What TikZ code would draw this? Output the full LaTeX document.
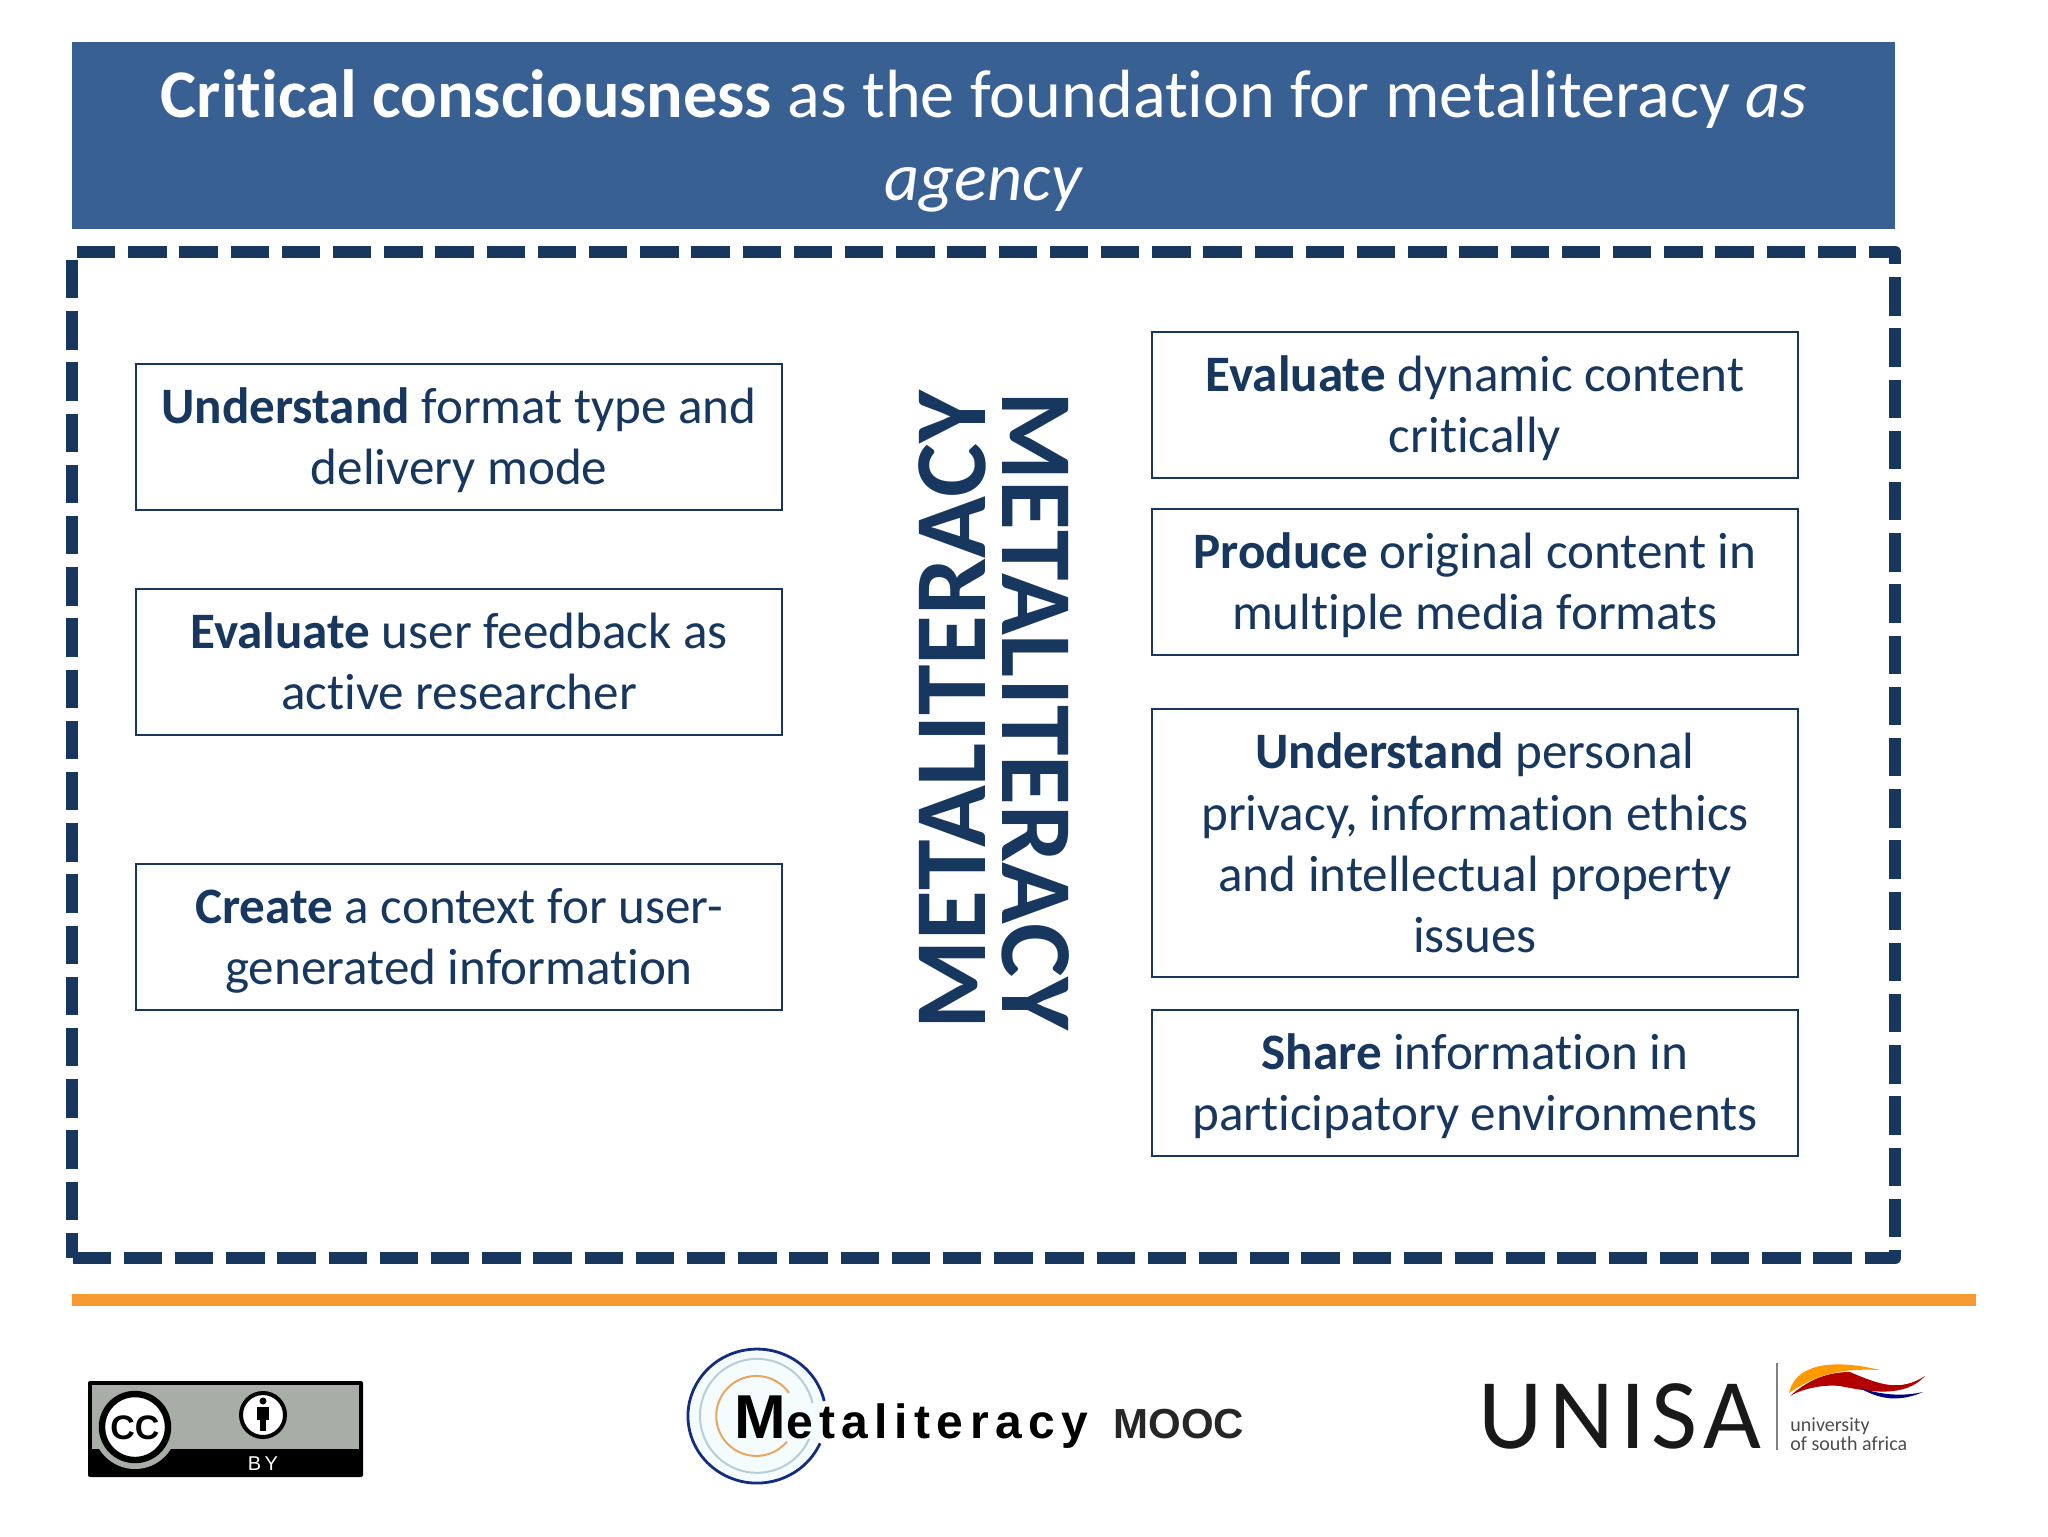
\documentclass[tikz,border=0pt]{standalone}
\usepackage{fontspec}
\setmainfont[Ligatures=NoCommon]{Carlito}
\newfontfamily\logofont[LetterSpace=13.5]{Liberation Sans}
\newfontfamily\moocfont{Liberation Sans}
\newfontfamily\unisafont[LetterSpace=6.5]{Carlito}
\definecolor{headblue}{HTML}{386093}
\definecolor{navy}{HTML}{17375E}
\definecolor{barorange}{HTML}{F79A32}
\definecolor{badgegray}{HTML}{A9ADA8}
\tikzset{
  infobox/.style={draw=navy, line width=1.2pt, text=navy, align=flush center, inner sep=0pt,
    minimum width=323pt, text width=320pt, font=\fontsize{25.55}{30.7}\selectfont},
  twoline/.style={infobox, minimum height=73pt, execute at begin node={\rule{0pt}{22pt}}, execute at end node={\rule[-5pt]{0pt}{5pt}}},
  sidelabel/.style={text=navy, inner sep=0pt, font=\fontsize{51}{51}\selectfont\bfseries},
  framedash/.style={navy, line width=6.3pt, line join=round, dash pattern=on 19.2pt off 6.4pt},
}
\begin{document}
\begin{tikzpicture}[x=0.5pt, y=-0.5pt]
\useasboundingbox (0,0) rectangle (2048,1536);
\fill[white] (0,0) rectangle (2048,1536);
% header
\fill[headblue] (72,42) rectangle (1895,229);
\node (title) [text=white, align=flush center, text width=890pt, inner sep=0pt, font=\fontsize{34.1}{41.5}\selectfont] at (984,141)
  {\textbf{Critical consciousness} as the foundation for metaliteracy \textit{as}\\\textit{agency}};
% dashed frame
\draw[framedash] (77,252) -- (1895,252) -- (1895,1258) -- (72,1258);
\draw[framedash] (72,260) -- (72,1258);
% left column
\node (format) [twoline] at (459,437) {\textbf{Understand} format type and\\delivery mode};
\node (feedback) [twoline] at (459,662) {\textbf{Evaluate} user feedback as\\active researcher};
\node (context) [twoline] at (459,937) {\textbf{Create} a context for user-\\generated information};
% right column
\node (dynamic) [twoline] at (1475,405) {\textbf{Evaluate} dynamic content\\critically};
\node (original) [twoline] at (1475,582) {\textbf{Produce} original content in\\multiple media formats};
\node (privacy) [infobox, minimum height=134pt] at (1475,843) {\textbf{Understand} personal\\privacy, information ethics\\and intellectual property\\issues};
\node (share) [twoline] at (1475,1083) {\textbf{Share} information in\\participatory environments};
% middle
\node (metaleft) [sidelabel, rotate=90] at (952,710) {METALITERACY};
\node (metaright) [sidelabel, rotate=-90] at (1036,711) {METALITERACY};
% rule
\fill[barorange] (72,1294) rectangle (1976,1306);
% cc badge
\fill[black, rounded corners=1pt] (88,1381) rectangle (363,1477);
\fill[badgegray] (92,1385) rectangle (359,1449);
\fill[badgegray] (135,1427) circle (42);
\fill[white, draw=black, line width=3.2pt] (135,1427) circle (33);
\node (cclabel) [inner sep=0pt, font=\moocfont\fontsize{17}{17}\selectfont\bfseries] at (135,1428) {CC};
\fill[white, draw=black, line width=2pt] (263,1415) circle (22);
\fill[black] (263,1401) circle (3.5);
\fill[black] (257,1407) rectangle (269,1420);
\fill[black] (260,1420) rectangle (266,1431);
\node (bylabel) [text=white, inner sep=0pt, font=\moocfont\fontsize{10}{10}\selectfont] at (263,1464) {B\,Y};
% mooc logo
\fill[cyan!4] (757,1416) ellipse (67 and 65);
\draw[cyan!30!gray!50, line width=1pt] (812.5,1403) arc[start angle=-13, end angle=-336, x radius=57, y radius=57];
\draw[navy!80!blue, line width=1.4pt] (824.2,1401) arc[start angle=-13, end angle=-336, x radius=69, y radius=67];
\draw[orange!50!brown!70, line width=1pt] (789,1393) arc[start angle=-35, end angle=-320, x radius=40, y radius=40];
\node (metalogo) [anchor=base west, inner sep=0pt, font=\logofont\fontsize{24}{24}\selectfont\bfseries] at (734,1438)
  {\fontsize{31}{31}\selectfont M\fontsize{24}{24}\selectfont etaliteracy};
\node (mooclogo) [anchor=base west, inner sep=0pt, font=\moocfont\fontsize{21}{21}\selectfont\bfseries, text=black!85] at (1113,1438) {MOOC};
% unisa logo
\node (unisa) [anchor=base west, inner sep=0pt, text=black!90, font=\unisafont\fontsize{50}{50}\selectfont] at (1478,1448) {UNISA};
\draw[gray, line width=1pt] (1777,1363) -- (1777,1450);
\fill[orange!80!yellow] (1789,1393) .. controls (1795,1365) and (1830,1358) .. (1880,1370) .. controls (1840,1368) and (1815,1375) .. (1789,1393) -- cycle;
\fill[red!70!black] (1790,1396) .. controls (1810,1378) and (1830,1372) .. (1850,1372) .. controls (1880,1385) and (1900,1392) .. (1925,1376) .. controls (1905,1398) and (1870,1392) .. (1840,1386) .. controls (1820,1384) and (1800,1390) .. (1790,1396) -- cycle;
\fill[blue!50!black] (1860,1388) .. controls (1885,1396) and (1905,1396) .. (1923,1392) .. controls (1900,1402) and (1880,1400) .. (1860,1388) -- cycle;
\node (unisasmall) [anchor=north west, align=left, inner sep=0pt, text=black!70, font=\fontsize{10}{9.5}\selectfont] at (1790,1417) {university\\of south africa};
\end{tikzpicture}
\end{document}
